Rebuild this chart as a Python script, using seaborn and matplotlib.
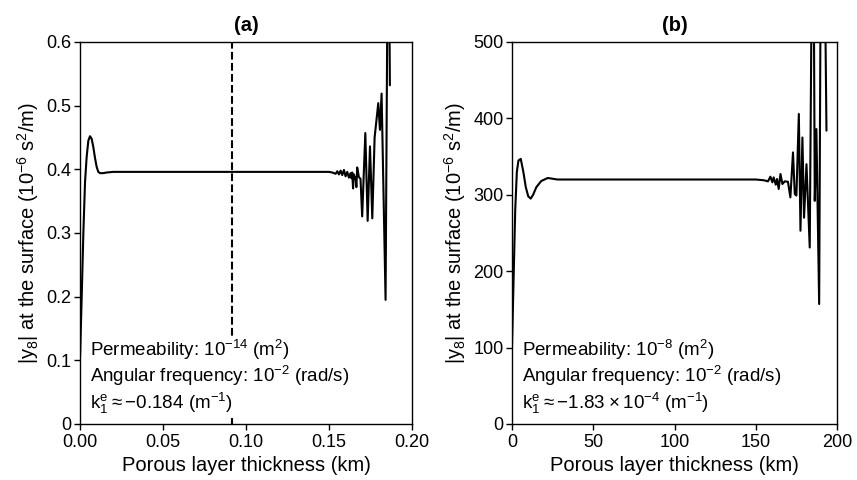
import numpy as np
import pandas as pd
import matplotlib
matplotlib.use('Agg')
import matplotlib.pyplot as plt
import seaborn as sns

# Panel (a): permeability 1e-14
xa = [0.0, 0.001, 0.002, 0.003, 0.004, 0.005, 0.006, 0.007, 0.008, 0.009, 0.010, 0.011, 0.012,
      0.014, 0.016, 0.020, 0.050, 0.100, 0.150, 0.152, 0.154, 0.155, 0.156, 0.157, 0.158, 0.159,
      0.160, 0.161, 0.162, 0.163, 0.1635, 0.164, 0.1645, 0.165, 0.1655, 0.166, 0.1665, 0.167,
      0.168, 0.169, 0.170, 0.1719, 0.1733, 0.1747, 0.1761, 0.1775, 0.1797, 0.1807, 0.1817,
      0.1841, 0.1855, 0.1860, 0.1867]
ya = [0.104, 0.20, 0.30, 0.38, 0.42, 0.445, 0.452, 0.448, 0.435, 0.418, 0.404, 0.396, 0.394,
      0.394, 0.395, 0.396, 0.396, 0.396, 0.396, 0.395, 0.393, 0.397, 0.392, 0.398, 0.391, 0.399,
      0.389, 0.396, 0.387, 0.394, 0.386, 0.395, 0.370, 0.392, 0.386, 0.388, 0.372, 0.403,
      0.388, 0.385, 0.326, 0.457, 0.319, 0.436, 0.323, 0.450, 0.504, 0.462, 0.519,
      0.195, 0.80, 0.80, 0.532]
dashed_x = 0.0915

# Panel (b): permeability 1e-8
xb = [0.0, 1.0, 2.0, 3.0, 4.0, 5.4, 7.0, 8.5, 10.0, 11.5, 13.0, 15.0, 18.0, 22.0, 28.0, 50.0,
      100.0, 150.0, 155.0, 157.5, 159.0, 160.2, 161.0, 162.3, 163.1, 164.1, 165.2, 166.4, 167.8,
      169.8, 171.3, 172.9, 174.0, 175.0, 176.5, 177.5, 178.7, 179.7, 181.2, 183.2, 185.2, 186.3,
      187.3, 189.0, 190.4, 191.5, 193.5]
yb = [100, 190, 280, 330, 345, 347, 330, 310, 298, 295, 300, 310, 318, 322, 320, 320,
      320, 320, 319, 317.6, 323.7, 316.3, 322.8, 313.2, 320.7, 307.6, 327.2, 314.1, 317.6,
      317, 296.6, 355.5, 301, 299, 405.8, 253, 375, 270, 340, 231, 800, 292,
      386, 157, 800, 800, 384]

sns.set_style('ticks')
plt.rcParams['font.family'] = ['Liberation Sans', 'DejaVu Sans']
plt.rcParams['mathtext.default'] = 'regular'
plt.rcParams['axes.edgecolor'] = 'black'
plt.rcParams['axes.labelcolor'] = 'black'
plt.rcParams['text.color'] = 'black'
plt.rcParams['xtick.color'] = 'black'
plt.rcParams['ytick.color'] = 'black'

df_a = pd.DataFrame({'x': xa, 'y': ya})
df_b = pd.DataFrame({'x': xb, 'y': yb})

fig = plt.figure(figsize=(8.57, 4.8), dpi=100)
ax1 = fig.add_axes([0.0934, 0.1167, 0.3873, 0.7958])
ax2 = fig.add_axes([0.5974, 0.1167, 0.3793, 0.7958])

fs_tick = 13
fs_lab = 14.5
fs_txt = 13.5
ylab = r'$|y_8|$ at the surface ($10^{-6}$ s$^2$/m)'
box = dict(facecolor='white', edgecolor='none', pad=1.5)

# (a)
sns.lineplot(data=df_a, x='x', y='y', ax=ax1, color='black', linewidth=1.5, estimator=None, sort=False)
ax1.axvline(dashed_x, color='black', linestyle='--', linewidth=1.5, zorder=1)
ax1.set_xlim(0, 0.2)
ax1.set_ylim(0, 0.6)
ax1.set_xticks([0, 0.05, 0.10, 0.15, 0.20])
ax1.set_xticklabels(['0.00', '0.05', '0.10', '0.15', '0.20'])
ax1.set_yticks([0, 0.1, 0.2, 0.3, 0.4, 0.5, 0.6])
ax1.set_yticklabels(['0', '0.1', '0.2', '0.3', '0.4', '0.5', '0.6'])
ax1.set_title('(a)', fontsize=fs_lab, fontweight='bold', pad=8)
ax1.set_xlabel('Porous layer thickness (km)', fontsize=fs_lab)
ax1.set_ylabel(ylab, fontsize=fs_lab)
ax1.text(0.03, 0.194, r'Permeability: $10^{-14}$ (m$^2$)', transform=ax1.transAxes, fontsize=fs_txt, va='center', bbox=box, zorder=3)
ax1.text(0.03, 0.126, r'Angular frequency: $10^{-2}$ (rad/s)', transform=ax1.transAxes, fontsize=fs_txt, va='center', bbox=box, zorder=3)
ax1.text(0.03, 0.055, r'$k_1^e \approx {-}0.184$ (m$^{-1}$)', transform=ax1.transAxes, fontsize=fs_txt, va='center', bbox=box, zorder=3)

# (b)
sns.lineplot(data=df_b, x='x', y='y', ax=ax2, color='black', linewidth=1.5, estimator=None, sort=False)
ax2.set_xlim(0, 200)
ax2.set_ylim(0, 500)
ax2.set_xticks([0, 50, 100, 150, 200])
ax2.set_yticks([0, 100, 200, 300, 400, 500])
ax2.set_title('(b)', fontsize=fs_lab, fontweight='bold', pad=8)
ax2.set_xlabel('Porous layer thickness (km)', fontsize=fs_lab)
ax2.set_ylabel(ylab, fontsize=fs_lab)
ax2.text(0.03, 0.194, r'Permeability: $10^{-8}$ (m$^2$)', transform=ax2.transAxes, fontsize=fs_txt, va='center')
ax2.text(0.03, 0.126, r'Angular frequency: $10^{-2}$ (rad/s)', transform=ax2.transAxes, fontsize=fs_txt, va='center')
ax2.text(0.03, 0.055, r'$k_1^e \approx {-}1.83 \times 10^{-4}$ (m$^{-1}$)', transform=ax2.transAxes, fontsize=fs_txt, va='center')

for ax in (ax1, ax2):
    ax.tick_params(labelsize=fs_tick, direction='out', length=4, width=1, pad=2)
    ax.tick_params(axis='x', pad=3)
    for s in ax.spines.values():
        s.set_linewidth(1.0)
        s.set_visible(True)
        s.set_zorder(4)

fig.savefig('out.png', dpi=100)
